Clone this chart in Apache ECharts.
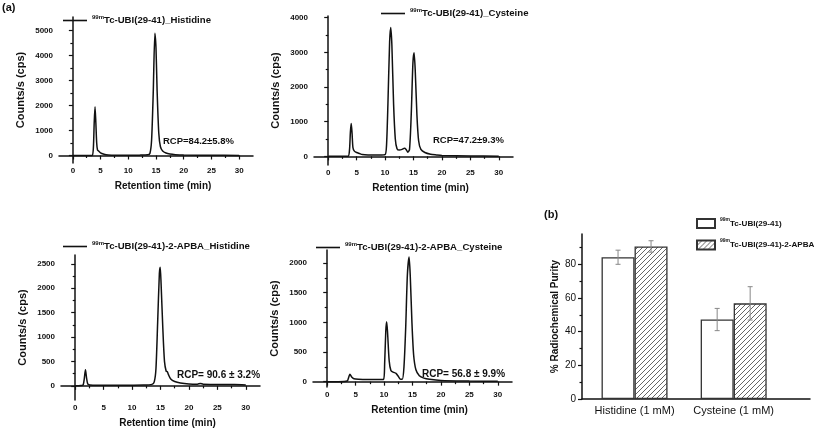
<!DOCTYPE html>
<html>
<head>
<meta charset="utf-8">
<script src="https://cdn.jsdelivr.net/npm/echarts@6/dist/echarts.min.js"></script>
<style>
  html, body { margin: 0; padding: 0; background: #fff; }
  #main { width: 817px; height: 431px; }
</style>
</head>
<body>
<div id="main"></div>
<script>
// chromatograms: [retention time (min), counts/s (cps)]
var hisUbi = [[0,0],[1,0],[2,0],[3,0],[3.5,5],[3.7,300],[3.85,1300],[4.0,1950],[4.15,1300],[4.3,500],[4.45,220],[4.7,170],[5.0,110],[5.5,60],[6,30],[7,15],[8,10],[10,10],[12,15],[13.5,30],[13.9,80],[14.2,600],[14.5,2500],[14.8,4900],[15.0,4300],[15.2,2600],[15.5,900],[15.8,350],[16.2,180],[16.8,100],[17.5,60],[18.5,35],[20,20],[25,10],[30,5]];
var cysUbi = [[0,0],[2,0],[3.5,5],[3.75,200],[3.9,700],[4.05,950],[4.2,650],[4.35,250],[4.6,150],[5,110],[5.5,80],[6,50],[7,40],[8,40],[9,40],[10,50],[10.25,300],[10.5,1500],[10.8,3300],[11.0,3720],[11.2,3200],[11.5,1500],[11.8,500],[12.1,220],[12.5,180],[13,200],[13.4,230],[13.7,200],[14.0,120],[14.3,200],[14.6,1200],[14.9,2700],[15.1,2990],[15.3,2500],[15.6,1200],[15.9,450],[16.3,200],[17,110],[18,60],[19,40],[20,25],[25,10],[30,5]];
var hisApba = [[0,0],[1,5],[1.4,20],[1.6,150],[1.8,330],[2.0,160],[2.2,40],[2.6,15],[4,10],[8,10],[12,15],[13.5,30],[13.9,80],[14.2,350],[14.5,1300],[14.8,2300],[14.95,2430],[15.1,2100],[15.4,1200],[15.7,500],[16.0,300],[16.2,290],[16.4,230],[16.8,140],[17.5,90],[18.5,60],[20,40],[21.5,35],[22,50],[22.5,35],[25,25],[28,25],[30,15]];
var cysApba = [[0,0],[2,0],[3.5,10],[3.8,80],[4.0,125],[4.3,80],[4.7,50],[5.5,40],[7,35],[9,35],[9.9,40],[10.1,300],[10.3,850],[10.45,1010],[10.6,850],[10.9,350],[11.2,190],[11.6,160],[12.1,140],[12.5,90],[12.9,40],[13.2,40],[13.5,250],[13.8,900],[14.1,1800],[14.4,2100],[14.6,1800],[14.9,1000],[15.2,450],[15.6,200],[16.2,100],[17,60],[18,40],[20,20],[25,10],[30,5]];

var traceNames = ['99mTc-UBI(29-41)_Histidine', '99mTc-UBI(29-41)_Cysteine',
                  '99mTc-UBI(29-41)-2-APBA_Histidine', '99mTc-UBI(29-41)-2-APBA_Cysteine'];
var rcpTexts = ['RCP=84.2\u00b15.8%', 'RCP=47.2\u00b19.3%', 'RCP= 90.6 \u00b1 3.2%', 'RCP= 56.8 \u00b1 9.9%'];

// tick labels
var timeTicks = [0, 5, 10, 15, 20, 25, 30];
var timeMinor = [2.5, 7.5, 12.5, 17.5, 22.5, 27.5];
var cpsTicks1 = [0, 1000, 2000, 3000, 4000, 5000];
var cpsMinor1 = [500, 1500, 2500, 3500, 4500];
var cpsTicks2 = [0, 1000, 2000, 3000, 4000];
var cpsMinor2 = [500, 1500, 2500, 3500];
var cpsTicks3 = [0, 500, 1000, 1500, 2000, 2500];
var cpsMinor3 = [250, 750, 1250, 1750, 2250];
var cpsTicks4 = [0, 500, 1000, 1500, 2000];
var cpsMinor4 = [250, 750, 1250, 1750];

// (b) radiochemical purity
var groups = ['Histidine (1 mM)', 'Cysteine (1 mM)'];
var barNames = ['99mTc-UBI(29-41)', '99mTc-UBI(29-41)-2-APBA'];
var rcpUbi = [84.2, 47.2];
var rcpApba = [90.6, 56.8];
var errUbi = [4.2, 6.6];
var errApba = [3.4, 9.9];
var purityTicks = [0, 20, 40, 60, 80];
var purityMinor = [10, 30, 50, 70, 90];

var FONT = '"Liberation Sans", Arial, sans-serif';
var chart = echarts.init(document.getElementById('main'));

// hatch pattern for the APBA bars
var hatch = document.createElement('canvas');
hatch.width = 5; hatch.height = 5;
var hc = hatch.getContext('2d');
hc.fillStyle = '#fff'; hc.fillRect(0, 0, 5, 5);
hc.strokeStyle = '#555'; hc.lineWidth = 0.9;
hc.beginPath();
hc.moveTo(0, 5); hc.lineTo(5, 0);
hc.moveTo(-1, 1); hc.lineTo(1, -1);
hc.moveTo(4, 6); hc.lineTo(6, 4);
hc.stroke();

function supRich(size, supSize) {
  return {
    s: { fontSize: supSize, fontWeight: 'bold', fontFamily: FONT, color: '#111', verticalAlign: 'top', lineHeight: 13 },
    t: { fontSize: size, fontWeight: 'bold', fontFamily: FONT, color: '#111', lineHeight: 13 }
  };
}
function supName(name) {
  return '{s|99m}{t|' + name.slice(3) + '}';
}
function plain(v) { return String(v); }

var panels = [
  { grid: { left: 59, top: 17, width: 194, height: 146 }, y: [-300, 5550], ticks: cpsTicks1, minor: cpsMinor1, data: hisUbi, legend: { left: 63, top: 14 } },
  { grid: { left: 314, top: 16, width: 199, height: 149 }, y: [-250, 4050], ticks: cpsTicks2, minor: cpsMinor2, data: cysUbi, legend: { left: 381, top: 7 } },
  { grid: { left: 61, top: 255, width: 199, height: 145 }, y: [-290, 2680], ticks: cpsTicks3, minor: cpsMinor3, data: hisApba, legend: { left: 63, top: 240 } },
  { grid: { left: 313, top: 250, width: 199, height: 137 }, y: [-90, 2220], ticks: cpsTicks4, minor: cpsMinor4, data: cysApba, legend: { left: 316, top: 241 } }
];

var axisLine = { lineStyle: { color: '#111', width: 1.5 } };
var tickLine = { color: '#111', width: 1.2 };
var labelStyle = { fontSize: 8, fontWeight: 'bold', fontFamily: FONT, color: '#111' };
var nameStyle = { fontSize: 10, fontWeight: 'bold', fontFamily: FONT, color: '#111' };

var grids = [], xAxes = [], yAxes = [], series = [], legends = [], texts = [];

panels.forEach(function (p, i) {
  grids.push(p.grid);
  xAxes.push({
    type: 'value', gridIndex: i, position: 'bottom', min: -2.5, max: 32.5,
    name: 'Retention time (min)', nameLocation: 'middle', nameGap: 18,
    nameTextStyle: Object.assign({ padding: [0, 0, 0, 14] }, nameStyle),
    axisLine: axisLine, splitLine: { show: false },
    axisTick: { customValues: timeTicks, length: 4, lineStyle: tickLine },
    axisLabel: Object.assign({ customValues: timeTicks, margin: 4, formatter: plain }, labelStyle)
  });
  xAxes.push({
    type: 'value', gridIndex: i, position: 'bottom', min: -2.5, max: 32.5,
    axisLine: { show: false }, splitLine: { show: false }, axisLabel: { show: false },
    axisTick: { customValues: timeMinor, length: 2.5, lineStyle: tickLine }
  });
  yAxes.push({
    type: 'value', gridIndex: i, position: 'left', min: p.y[0], max: p.y[1],
    name: 'Counts/s (cps)', nameLocation: 'middle', nameGap: 33,
    nameTextStyle: Object.assign({}, nameStyle, { fontSize: 11 }),
    axisLine: axisLine, splitLine: { show: false },
    axisTick: { customValues: p.ticks, length: 4, lineStyle: tickLine },
    axisLabel: Object.assign({ customValues: p.ticks, margin: 6, formatter: plain }, labelStyle)
  });
  yAxes.push({
    type: 'value', gridIndex: i, position: 'left', min: p.y[0], max: p.y[1],
    axisLine: { show: false }, splitLine: { show: false }, axisLabel: { show: false },
    axisTick: { customValues: p.minor, length: 2.5, lineStyle: tickLine }
  });
  series.push({
    name: traceNames[i], type: 'line', xAxisIndex: 2 * i, yAxisIndex: 2 * i,
    data: p.data, showSymbol: false, symbol: 'none', smooth: 0.25,
    lineStyle: { color: '#111', width: 1.5 }, itemStyle: { color: '#111' }
  });
  legends.push({
    data: [traceNames[i]], left: p.legend.left, top: p.legend.top, padding: 0,
    icon: 'rect', itemWidth: 24, itemHeight: 1.6, selectedMode: false,
    formatter: supName, textStyle: { rich: supRich(9.6, 6) }
  });
});

// panel (b)
grids.push({ left: 582, top: 234, width: 228, height: 165 });
xAxes.push({
  type: 'value', gridIndex: 4, position: 'bottom', min: 0.47, max: 2.77,
  axisLine: axisLine, splitLine: { show: false }, axisTick: { show: false },
  axisLabel: { customValues: [1, 2], margin: 6, fontSize: 11, fontFamily: FONT, color: '#111',
    formatter: function (v) { return groups[Math.round(v) - 1]; } }
});
yAxes.push({
  type: 'value', gridIndex: 4, position: 'left', min: 0, max: 98,
  name: '% Radiochemical Purity', nameLocation: 'middle', nameGap: 22,
  nameTextStyle: nameStyle,
  axisLine: axisLine, splitLine: { show: false },
  axisTick: { customValues: purityTicks, length: 4, lineStyle: tickLine },
  axisLabel: { customValues: purityTicks, margin: 6, fontSize: 10, fontFamily: FONT, color: '#111' }
});
yAxes.push({
  type: 'value', gridIndex: 4, position: 'left', min: 0, max: 98,
  axisLine: { show: false }, splitLine: { show: false }, axisLabel: { show: false },
  axisTick: { customValues: purityMinor, length: 2.5, lineStyle: tickLine }
});

var BAR_W = 33;
function barData(vals) { return vals.map(function (v, i) { return [i + 1, v]; }); }
function errData(vals, errs) { return vals.map(function (v, i) { return [i + 1, v, errs[i]]; }); }
function errRender(offset) {
  return function (params, api) {
    var top = api.coord([api.value(0), api.value(1) + api.value(2)]);
    var bot = api.coord([api.value(0), api.value(1) - api.value(2)]);
    var x = top[0] + offset, cap = 2.5;
    var st = { stroke: '#888', lineWidth: 1 };
    return { type: 'group', children: [
      { type: 'line', shape: { x1: x, y1: top[1], x2: x, y2: bot[1] }, style: st },
      { type: 'line', shape: { x1: x - cap, y1: top[1], x2: x + cap, y2: top[1] }, style: st },
      { type: 'line', shape: { x1: x - cap, y1: bot[1], x2: x + cap, y2: bot[1] }, style: st }
    ] };
  };
}

series.push({
  name: barNames[0], type: 'bar', xAxisIndex: 8, yAxisIndex: 8, barWidth: BAR_W, barGap: '0%',
  data: barData(rcpUbi), itemStyle: { color: '#fff', borderColor: '#333', borderWidth: 1.3 }
});
series.push({
  name: barNames[1], type: 'bar', xAxisIndex: 8, yAxisIndex: 8, barWidth: BAR_W, barGap: '0%',
  data: barData(rcpApba), itemStyle: { color: { image: hatch, repeat: 'repeat' }, borderColor: '#333', borderWidth: 1.3 }
});
series.push({
  type: 'custom', xAxisIndex: 8, yAxisIndex: 8, z: 5, silent: true,
  data: errData(rcpUbi, errUbi), renderItem: errRender(-BAR_W / 2)
});
series.push({
  type: 'custom', xAxisIndex: 8, yAxisIndex: 8, z: 5, silent: true,
  data: errData(rcpApba, errApba), renderItem: errRender(BAR_W / 2)
});
legends.push({
  data: barNames, orient: 'vertical', left: 696, top: 217, padding: 0,
  icon: 'rect', itemWidth: 18, itemHeight: 9, itemGap: 9.5,
  selectedMode: false, formatter: supName, textStyle: { rich: supRich(8.1, 5) }
});

// annotations
var rcpPos = [[163, 142, 9.5], [433, 141, 9.5], [177, 376, 10], [422, 375, 10]];
rcpPos.forEach(function (pos, i) {
  texts.push({ type: 'text', left: pos[0], top: pos[1] - 6,
    style: { text: rcpTexts[i], fontSize: pos[2], fontWeight: 'bold', fontFamily: FONT, fill: '#111' } });
});
texts.push({ type: 'text', left: 2, top: 2, style: { text: '(a)', fontSize: 11, fontWeight: 'bold', fontFamily: FONT, fill: '#111' } });
texts.push({ type: 'text', left: 544, top: 209, style: { text: '(b)', fontSize: 11, fontWeight: 'bold', fontFamily: FONT, fill: '#111' } });

chart.setOption({
  animation: false,
  backgroundColor: '#fff',
  grid: grids,
  xAxis: xAxes,
  yAxis: yAxes,
  legend: legends,
  series: series,
  graphic: texts
});
</script>
</body>
</html>
